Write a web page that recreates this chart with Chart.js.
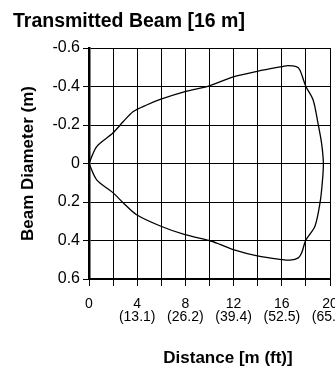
<!DOCTYPE html>
<html>
<head>
<meta charset="utf-8">
<script src="https://cdn.jsdelivr.net/npm/chart.js@4/dist/chart.umd.min.js"></script>
<style>
  html, body { margin: 0; padding: 0; background: #fff; }
  canvas { display: block; }
</style>
</head>
<body>
<canvas id="beamChart" width="335" height="369"></canvas>
<script>
// Beam outline, upper edge then lower edge (distance in m, diameter in m)
const upperX = [0, 0.64, 1.96, 2.85, 3.68, 4.78, 5.97, 7.97, 9.98, 11.97, 13.97, 15.99, 16.5, 17.2, 17.5, 17.98, 18.6, 19.0, 19.3, 19.45];
const upperY = [0, -0.088, -0.157, -0.218, -0.27, -0.304, -0.334, -0.373, -0.403, -0.45, -0.479, -0.503, -0.508, -0.503, -0.486, -0.403, -0.33, -0.21, -0.106, 0];
const lowerX = [19.36, 19.17, 18.75, 17.98, 17.65, 17.37, 16.68, 15.99, 13.97, 11.97, 10.87, 9.98, 7.97, 5.97, 3.95, 2.85, 1.96, 0.64, 0];
const lowerY = [0.10, 0.205, 0.326, 0.40, 0.464, 0.49, 0.502, 0.499, 0.48, 0.447, 0.42, 0.40, 0.37, 0.326, 0.266, 0.205, 0.15, 0.085, 0];

// Tick labels
const distM = [0, 4, 8, 12, 16, 20];
const distFt = ['', '(13.1)', '(26.2)', '(39.4)', '(52.5)', '(65.6)'];

const points = [];
upperX.forEach((x, i) => points.push({ x: x, y: upperY[i] }));
lowerX.forEach((x, i) => points.push({ x: x, y: lowerY[i] }));

const FONT = "'Liberation Sans', Arial, sans-serif";

// Titles drawn straight onto the canvas
const titles = {
  id: 'titles',
  afterDraw(chart) {
    const c = chart.ctx;
    c.save();
    c.fillStyle = '#000';
    c.font = 'bold 19.5px ' + FONT;
    c.textAlign = 'left';
    c.textBaseline = 'alphabetic';
    c.fillText('Transmitted Beam [16 m]', 13, 27);

    c.font = 'bold 17px ' + FONT;
    c.textAlign = 'center';
    c.fillText('Distance [m (ft)]', 228, 363);

    c.translate(33, 163.5);
    c.rotate(-Math.PI / 2);
    c.fillText('Beam Diameter (m)', 0, 0);
    c.restore();
  }
};

const ctx = document.getElementById('beamChart').getContext('2d');
new Chart(ctx, {
  type: 'scatter',
  data: {
    datasets: [{
      data: points,
      showLine: true,
      borderColor: '#000',
      borderWidth: 1.3,
      pointRadius: 0,
      tension: 0.3,
      fill: false
    }]
  },
  options: {
    responsive: false,
    animation: false,
    layout: { padding: { top: 48, right: 5, left: 0, bottom: 0 } },
    plugins: { legend: { display: false }, tooltip: { enabled: false } },
    scales: {
      x: {
        type: 'linear',
        min: 0,
        max: 20,
        ticks: {
          stepSize: 2,
          maxRotation: 0,
          autoSkip: false,
          color: '#000',
          padding: 12,
          font: { family: FONT, size: 14, lineHeight: 0.93 },
          callback: function (v) {
            const i = distM.indexOf(v);
            if (i < 0) return '';
            return distFt[i] ? [String(v), distFt[i]] : String(v);
          }
        },
        grid: { color: '#000', lineWidth: 1, tickLength: 7 },
        border: { color: '#000', width: 2 },
        afterFit(s) { s.height = 90; s.paddingLeft = 0; s.paddingRight = 0; }
      },
      y: {
        type: 'linear',
        min: -0.6,
        max: 0.6,
        reverse: true,
        ticks: {
          stepSize: 0.2,
          color: '#000',
          padding: 3,
          font: { family: FONT, size: 16 },
          callback: function (v) {
            return Math.abs(v) < 1e-9 ? '0' : v.toFixed(1);
          }
        },
        grid: { color: '#000', lineWidth: 1, tickLength: 6 },
        border: { color: '#000', width: 2.5 },
        afterFit(s) { s.width = 89; }
      }
    }
  },
  plugins: [titles]
});
</script>
</body>
</html>
